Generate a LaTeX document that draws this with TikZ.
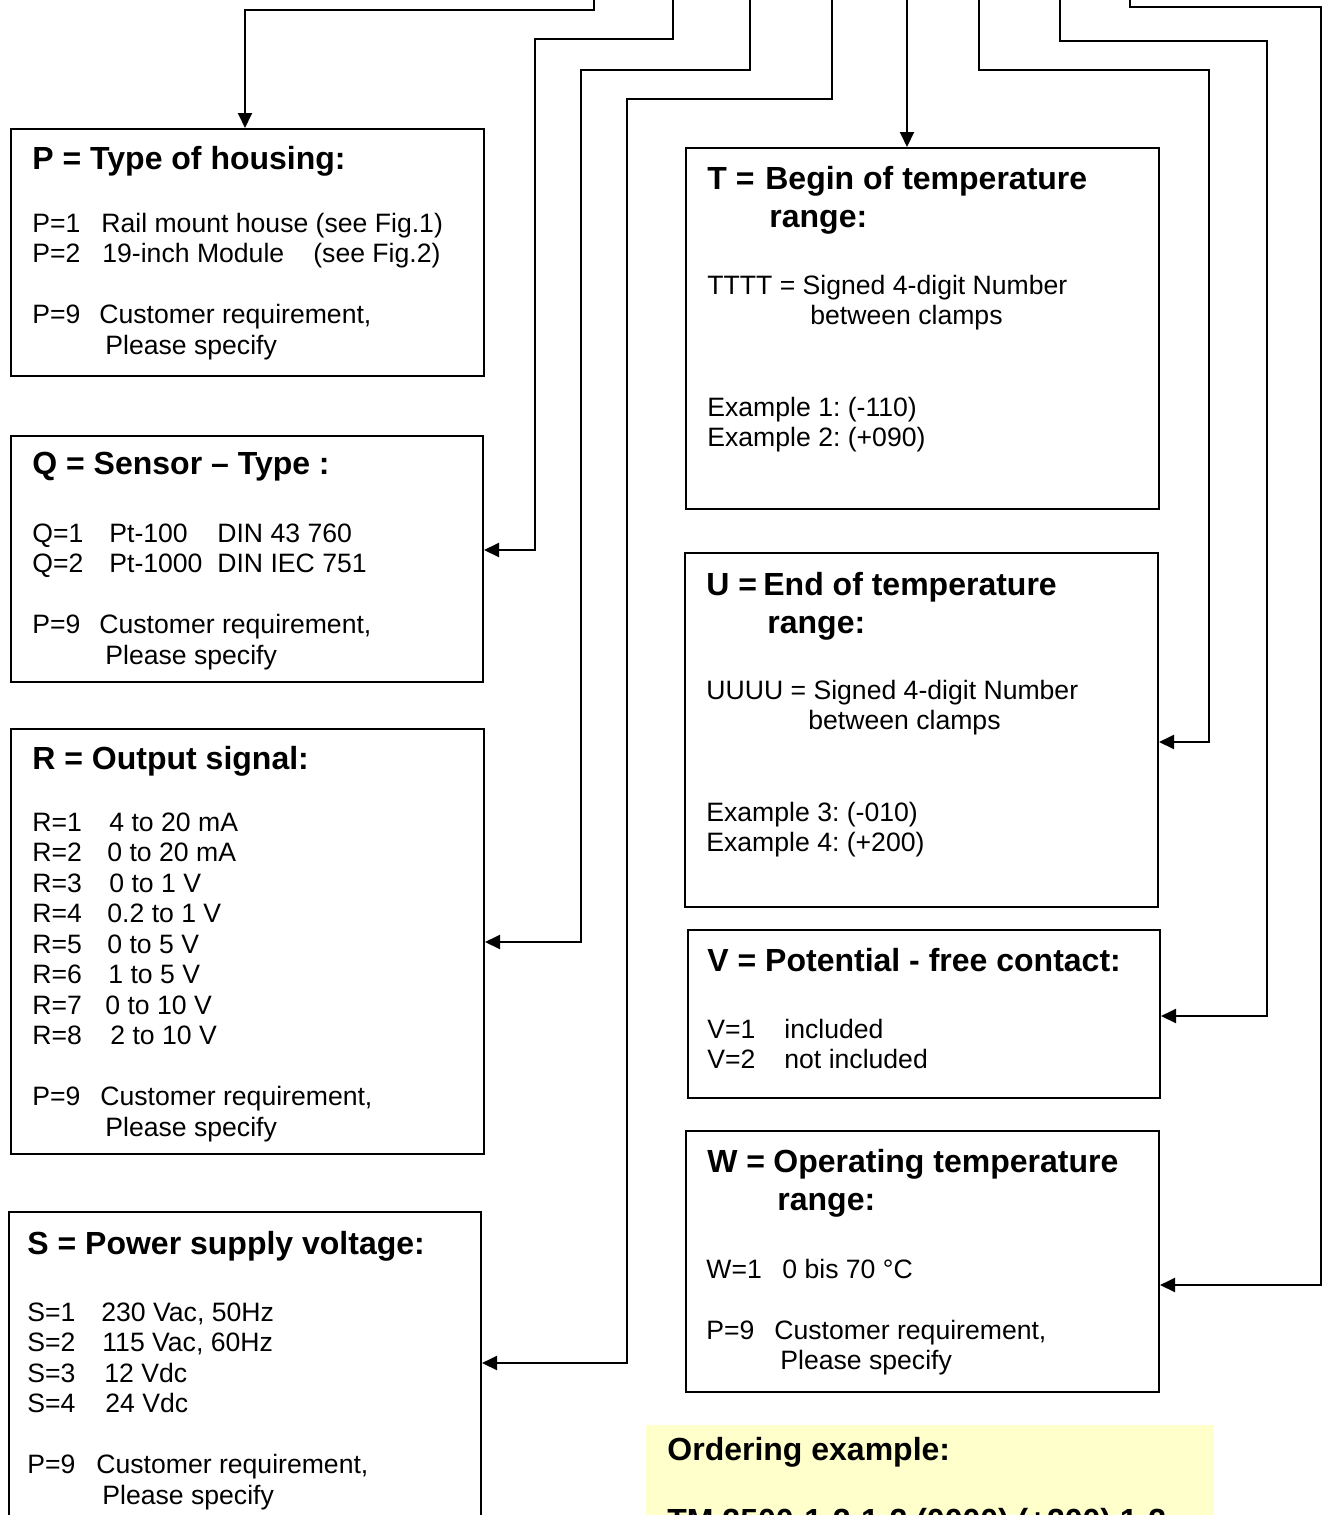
\documentclass[tikz,border=0pt]{standalone}
\usepackage{fontspec}
\setmainfont{Liberation Sans}
\usetikzlibrary{positioning,arrows.meta}
\definecolor{ordfill}{RGB}{255,255,204}
\newcommand{\optlbl}[2]{\makebox[#1][l]{#2}}
\frenchspacing

\begin{document}
\begin{tikzpicture}[x=0.5pt, y=-0.5pt,
optbox/.style={draw=black, line width=1pt, rectangle, anchor=north west, inner sep=0pt},
ttl/.style={anchor=north west, inner sep=0pt, align=left, font=\fontsize{16}{19}\selectfont\bfseries},
txt/.style={anchor=north west, inner sep=0pt, align=left, font=\fontsize{13.3}{15.25}\selectfont},
conn/.style={draw=black, line width=1pt, -{Triangle[length=7.5pt, width=7pt]}}
]
    \useasboundingbox (0,0) rectangle (1326,1515);

    %Boxes
    \node[optbox, minimum width=236.5pt, minimum height=123.5pt] (P) at (10,128) {};
    \node[optbox, minimum width=236pt, minimum height=123pt]     (Q) at (10,435) {};
    \node[optbox, minimum width=236.5pt, minimum height=212.5pt] (R) at (10,728) {};
    \node[optbox, minimum width=236pt, minimum height=170pt]     (S) at (8,1211) {};
    \node[optbox, minimum width=236.5pt, minimum height=180.5pt] (T) at (685,147) {};
    \node[optbox, minimum width=236.5pt, minimum height=177pt]   (U) at (684,552) {};
    \node[optbox, minimum width=236pt, minimum height=84pt]      (V) at (687,929) {};
    \node[optbox, minimum width=236.5pt, minimum height=130.5pt] (W) at (685,1130) {};
    \node[anchor=north west, fill=ordfill, inner sep=0pt,
          minimum width=284pt, minimum height=60pt]              (Ord) at (646,1425) {};

    %Texts
    \node[ttl] (Pttl) at (32,145.5) {P = Type of housing:};
    \node[txt] (Ptxt) at (32,212.5) {\optlbl{34.5pt}{P=1}Rail mount house (see Fig.1)\\\optlbl{35pt}{P=2}\optlbl{105.5pt}{19-inch Module}(see Fig.2)\\[15.25pt]\optlbl{33.5pt}{P=9}Customer requirement,\\\hspace*{36.5pt}Please specify};

    \node[ttl] (Qttl) at (32,451.5) {Q = Sensor -- Type :};
    \node[txt] (Qtxt) at (32,523.5) {\optlbl{38.5pt}{Q=1}\optlbl{54pt}{Pt-100}DIN 43 760\\\optlbl{38.5pt}{Q=2}\optlbl{54pt}{Pt-1000}DIN IEC 751\\[15.25pt]\optlbl{33.5pt}{P=9}Customer requirement,\\\hspace*{36.5pt}Please specify};

    \node[ttl] (Rttl) at (32,745.5) {R = Output signal:};
    \node[txt] (Rtxt) at (32,812.5) {\optlbl{38.5pt}{R=1}4 to 20 mA\\\optlbl{37.5pt}{R=2}0 to 20 mA\\\optlbl{38.5pt}{R=3}0 to 1 V\\\optlbl{37.5pt}{R=4}0.2 to 1 V\\\optlbl{37.5pt}{R=5}0 to 5 V\\\optlbl{38pt}{R=6}1 to 5 V\\\optlbl{36.5pt}{R=7}0 to 10 V\\\optlbl{39pt}{R=8}2 to 10 V\\[15.25pt]\optlbl{34pt}{P=9}Customer requirement,\\\hspace*{36.5pt}Please specify};

    \node[ttl] (Sttl) at (27,1230.5) {S = Power supply voltage:};
    \node[txt] (Stxt) at (27,1302.5) {\optlbl{37pt}{S=1}230 Vac, 50Hz\\\optlbl{37.5pt}{S=2}115 Vac, 60Hz\\\optlbl{38.5pt}{S=3}12 Vdc\\\optlbl{39pt}{S=4}24 Vdc\\[15.25pt]\optlbl{34.5pt}{P=9}Customer requirement,\\\hspace*{37.5pt}Please specify};

    \node[ttl] (Tttl) at (707,165.5) {\optlbl{29pt}{T =}Begin of temperature\\\hspace*{31pt}range:};
    \node[txt] (Ttxt) at (707,274.5) {TTTT = Signed 4-digit Number\\\hspace*{51.5pt}between clamps\\[30.5pt]Example 1: (-110)\\Example 2: (+090)};

    \node[ttl] (Uttl) at (706,571.5) {\optlbl{28.5pt}{U =}End of temperature\\\hspace*{30.5pt}range:};
    \node[txt] (Utxt) at (706,679.5) {UUUU = Signed 4-digit Number\\\hspace*{51pt}between clamps\\[30.5pt]Example 3: (-010)\\Example 4: (+200)};

    \node[ttl] (Vttl) at (707,947.5) {V = Potential - free contact:};
    \node[txt] (Vtxt) at (707,1018.5) {\optlbl{38.5pt}{V=1}included\\\optlbl{38.5pt}{V=2}not included};

    \node[ttl] (Wttl) at (707,1148.5) {\optlbl{33pt}{W =}Operating temperature\\\hspace*{35pt}range:};
    \node[txt] (Wtxt) at (706,1258.5) {\optlbl{38pt}{W=1}0 bis 70 °C\\[15.25pt]\optlbl{34pt}{P=9}Customer requirement,\\\hspace*{37pt}Please specify};

    \node[ttl] (Ordttl)  at (667,1436.5) {Ordering example:};
    \node[ttl] (Ordcode) at (667,1508) {TM 2500-1-2-1-2 (0000) (+200) 1-2};

    %Lines
    \coordinate (pTop) at (594,-10);  \coordinate (pA) at (245,10);
    \coordinate (qTop) at (673,-10);  \coordinate (qA) at (535,39);  \coordinate (qB) at (535,550);
    \coordinate (rTop) at (750,-10);  \coordinate (rA) at (581,70);  \coordinate (rB) at (581,942);
    \coordinate (sTop) at (832,-10);  \coordinate (sA) at (627,99);  \coordinate (sB) at (627,1363);
    \coordinate (tTop) at (907,-10);
    \coordinate (uTop) at (979,-10);  \coordinate (uA) at (1209,70); \coordinate (uB) at (1209,742);
    \coordinate (vTop) at (1060,-10); \coordinate (vA) at (1267,41); \coordinate (vB) at (1267,1016);
    \coordinate (wTop) at (1130,-10); \coordinate (wA) at (1321,7);  \coordinate (wB) at (1321,1285);

    \draw[conn] (pTop) |- (pA) -- (pA |- P.north);
    \draw[conn] (qTop) |- (qA) -- (qB) -- (qB -| Q.east);
    \draw[conn] (rTop) |- (rA) -- (rB) -- (rB -| R.east);
    \draw[conn] (sTop) |- (sA) -- (sB) -- (sB -| S.east);
    \draw[conn] (tTop) -- (tTop |- T.north);
    \draw[conn] (uTop) |- (uA) -- (uB) -- (uB -| U.east);
    \draw[conn] (vTop) |- (vA) -- (vB) -- (vB -| V.east);
    \draw[conn] (wTop) |- (wA) -- (wB) -- (wB -| W.east);
\end{tikzpicture}
\end{document}
